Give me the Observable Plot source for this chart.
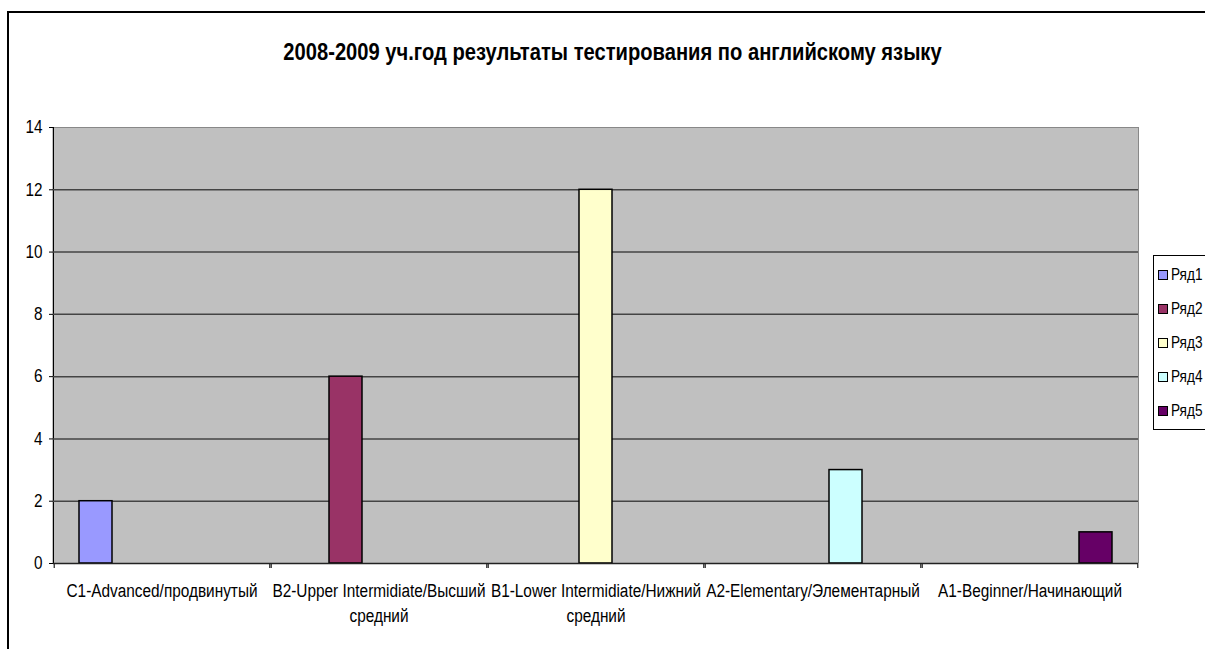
<!DOCTYPE html>
<html><head><meta charset="utf-8">
<script src="https://cdn.jsdelivr.net/npm/d3@7"></script>
<script src="https://cdn.jsdelivr.net/npm/@observablehq/plot@0.6"></script>
<style>
html,body{margin:0;padding:0;background:#fff;overflow:hidden;}
#wrap{position:relative;width:1205px;height:649px;overflow:hidden;background:#fff;}
#wrap svg{position:absolute;left:0;top:0;}
.abs{position:absolute;}
</style></head><body><div id="wrap"></div>
<script>
// ---- data ----
const title = "2008-2009 уч.год результаты тестирования по английскому языку";
const categories = ["C1-Advanced/продвинутый", "B2-Upper Intermidiate/Высший средний", "B1-Lower Intermidiate/Нижний средний", "A2-Elementary/Элементарный", "A1-Beginner/Начинающий"];
const categoryLabels = ["C1-Advanced/продвинутый", "B2-Upper Intermidiate/Высший\nсредний", "B1-Lower Intermidiate/Нижний\nсредний", "A2-Elementary/Элементарный", "A1-Beginner/Начинающий"];
const seriesNames = ["Ряд1", "Ряд2", "Ряд3", "Ряд4", "Ряд5"];
const seriesColors = ["#9999FF", "#993366", "#FFFFCC", "#CCFFFF", "#660066"];
const ryad1 = [2, null, null, null, null];
const ryad2 = [null, 6, null, null, null];
const ryad3 = [null, null, 12, null, null];
const ryad4 = [null, null, null, 3, null];
const ryad5 = [null, null, null, null, 1];
const yTicks = [0, 2, 4, 6, 8, 10, 12, 14];

const seriesValues = [ryad1, ryad2, ryad3, ryad4, ryad5];
const table = [];
seriesValues.forEach((vals, s) => vals.forEach((v, c) => {
  if (v != null) table.push({category: categories[c], series: seriesNames[s], value: v});
}));

// ---- style ----
const F = "'Liberation Sans', Arial, sans-serif";
const W = 1205, H = 649, mL = 52, mR = 67, mT = 127, mB = 86;
const plotW = W - mL - mR, plotH = H - mT - mB;
const gapRatio = 0.75; // Excel gap width 150% -> half on each side
const bw = plotW / categories.length / (seriesNames.length + 2 * gapRatio);

const wrap = document.getElementById("wrap");

// outer chart border
const border = document.createElement("div");
border.className = "abs";
Object.assign(border.style, {left: "7px", top: "11px", width: "1400px", height: "800px", borderLeft: "2px solid #000", borderTop: "2px solid #000"});
wrap.appendChild(border);

// plot area background + top/right border
const pa = document.createElement("div");
pa.className = "abs";
Object.assign(pa.style, {left: mL + "px", top: (mT - 0.5) + "px", width: (plotW + 0.5) + "px", height: plotH + "px", boxSizing: "border-box", background: "#C0C0C0", borderTop: "1.5px solid #888", borderRight: "1.5px solid #888"});
wrap.appendChild(pa);

const chart = Plot.plot({
  width: W, height: H,
  marginLeft: mL, marginRight: mR, marginTop: mT, marginBottom: mB,
  style: {fontFamily: F, fontSize: "18px", color: "#000", background: "transparent", overflow: "visible"},
  fx: {domain: categories, paddingInner: 0, paddingOuter: 0, axis: null},
  x: {domain: seriesNames, paddingInner: 0, paddingOuter: gapRatio, axis: null},
  y: {domain: [0, 14], ticks: yTicks, tickSize: 4, tickPadding: 7, line: true, label: null},
  color: {domain: seriesNames, range: seriesColors},
  marks: [
    Plot.ruleY(yTicks.filter(t => t > 0 && t < 14), {stroke: "#444", strokeWidth: 1.5}),
    Plot.barY(table, {fx: "category", x: "series", y: "value", fill: "series", stroke: "#000", strokeWidth: 1.5, inset: 0}),
    Plot.ruleY([0], {stroke: "#222", strokeWidth: 1.5}),
    Plot.ruleX([seriesNames[0]], {x: d => d, dx: -(gapRatio + 0.5) * bw, insetTop: plotH, insetBottom: -5, stroke: "#222", strokeWidth: 1.2}),
    Plot.ruleX([seriesNames[seriesNames.length - 1]], {x: d => d, dx: (gapRatio + 0.5) * bw, insetTop: plotH, insetBottom: -5, stroke: "#222", strokeWidth: 1.2}),
    Plot.text(categories, {fx: d => d, text: (d, i) => categoryLabels[i], frameAnchor: "bottom", lineAnchor: "top", dy: 15, fontSize: 19, lineHeight: 1.35, fill: "#000"})
  ]
});
wrap.appendChild(chart);

// condense SVG text horizontally (Arial Narrow look of the original)
chart.querySelectorAll("text").forEach(el => {
  const isAxis = el.closest("[aria-label='y-axis tick label']") != null;
  const s = isAxis ? 0.85 : 0.81;
  const tr = el.getAttribute("transform");
  if (tr) el.setAttribute("transform", tr + ` scale(${s},1)`);
  else {
    const x = +(el.getAttribute("x") || 0), y = +(el.getAttribute("y") || 0);
    el.setAttribute("transform", `translate(${x},${y}) scale(${s},1) translate(${-x},${-y})`);
  }
});

// title
const t = document.createElement("div");
t.className = "abs";
t.textContent = title;
Object.assign(t.style, {left: "10px", width: W + "px", top: "40px", textAlign: "center", fontFamily: F, fontWeight: "bold", fontSize: "24px", lineHeight: "1", color: "#000", whiteSpace: "nowrap", transform: "scaleX(0.84)", transformOrigin: "50% 50%"});
wrap.appendChild(t);

// legend
const lg = document.createElement("div");
lg.className = "abs";
Object.assign(lg.style, {left: "1153px", top: "255px", width: "80px", height: "175px", border: "1px solid #000", background: "#fff", boxSizing: "border-box"});
seriesNames.forEach((name, i) => {
  const cy = 19 + i * 34;
  const sw = document.createElement("div");
  sw.className = "abs";
  Object.assign(sw.style, {left: "4px", top: (cy - 5) + "px", width: "8px", height: "8px", border: "1px solid #000", background: seriesColors[i]});
  lg.appendChild(sw);
  const tx = document.createElement("div");
  tx.className = "abs";
  tx.textContent = name;
  Object.assign(tx.style, {left: "17px", top: (cy - 11) + "px", height: "22px", lineHeight: "22px", fontFamily: F, fontSize: "17px", color: "#000", whiteSpace: "nowrap", transform: "scaleX(0.8)", transformOrigin: "0 50%"});
  lg.appendChild(tx);
});
wrap.appendChild(lg);
</script>
</body></html>
